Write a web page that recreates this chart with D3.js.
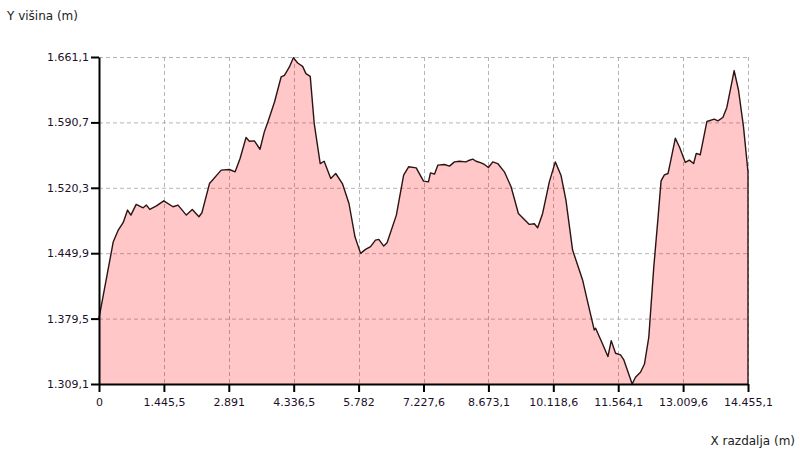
<!DOCTYPE html>
<meta charset="utf-8" />
<style>
    body { margin: 0; background: #fff; }
    text { font-family: "DejaVu Sans", Verdana, sans-serif; }
</style>
<title>Profil</title>
<body></body>
<script src="https://d3js.org/d3.v7.min.js"></script>
<script>

    // distance along the profile (m)
    var distances = [0, 318, 429, 540, 636, 710, 828, 983, 1057, 1131, 1279, 1442, 1649, 1760, 1945,
        2078, 2226, 2292, 2462, 2721, 2906, 3032, 3142, 3275, 3349, 3460, 3586, 3682, 3761, 3909,
        4056, 4130, 4241, 4329, 4425, 4536, 4609, 4705, 4794, 4927, 5015, 5162, 5273, 5421, 5568,
        5701, 5826, 5937, 6048, 6158, 6232, 6342, 6416, 6623, 6785, 6896, 7065, 7228, 7338, 7383,
        7472, 7546, 7694, 7806, 7917, 8028, 8176, 8250, 8325, 8399, 8510, 8584, 8673, 8770, 8881,
        9029, 9178, 9341, 9474, 9585, 9696, 9770, 9881, 10030, 10163, 10289, 10400, 10548, 10660,
        10771, 10882, 11030, 11061, 11209, 11335, 11409, 11505, 11616, 11690, 11779, 11875, 11949,
        12060, 12149, 12245, 12356, 12452, 12519, 12593, 12674, 12726, 12837, 12933, 13059, 13148,
        13244, 13303, 13392, 13540, 13703, 13784, 13895, 13984, 14147, 14244, 14355, 14455.1];

    // elevation (m)
    var elevations = [1380, 1462.3, 1474.8, 1483, 1496.3, 1490.9, 1502.4, 1498.8, 1501.7, 1497, 1500.9,
        1506.3, 1499.9, 1501.7, 1490.9, 1497, 1489.1, 1493.4, 1525, 1539.3, 1540, 1537.5, 1551.8,
        1574.4, 1570.4, 1570.8, 1561.8, 1580.5, 1591.2, 1612.7, 1639.6, 1641.4, 1650.4, 1660.4,
        1654.6, 1651, 1643.2, 1640.3, 1589.4, 1546.4, 1548.9, 1530.3, 1535.7, 1524.9, 1503.4,
        1467.6, 1449.7, 1454, 1456.9, 1464, 1464.8, 1457.6, 1461.2, 1490.9, 1533.9, 1542.9,
        1541.8, 1527.5, 1526.7, 1536.4, 1535, 1544.7, 1545.4, 1543.6, 1548.2, 1548.9, 1548.2,
        1550, 1551.1, 1548.9, 1547.2, 1545.4, 1542.1, 1548.2, 1546.4, 1537.5, 1521.4, 1492.7,
        1486.3, 1480.9, 1481.6, 1477.3, 1492.7, 1526.7, 1548.2, 1533.9, 1507, 1453.3, 1437.2,
        1421.1, 1397.8, 1367.3, 1369.1, 1353, 1338.6, 1355.8, 1342.2, 1340.4, 1335, 1322.5,
        1309.1, 1316.3, 1321.7, 1330.6, 1359.3, 1434.6, 1488.4, 1527.8, 1534.3, 1535.7, 1547.6,
        1573.7, 1563.7, 1547.6, 1550.1, 1546.5, 1557.3, 1555.9, 1591.7, 1594.2, 1592.4, 1596,
        1606.8, 1646.5, 1625.3, 1585.9, 1537.5];

    // axis ticks
    var xTicks = [0, 1445.51, 2891.02, 4336.53, 5782.04, 7227.55, 8673.06, 10118.57, 11564.08, 13009.59, 14455.1];
    var xTickLabels = ["0", "1.445,5", "2.891", "4.336,5", "5.782", "7.227,6", "8.673,1",
        "10.118,6", "11.564,1", "13.009,6", "14.455,1"];
    var yTicks = [1309.1, 1379.5, 1449.9, 1520.3, 1590.7, 1661.1];
    var yTickLabels = ["1.309,1", "1.379,5", "1.449,9", "1.520,3", "1.590,7", "1.661,1"];

    var svgWidth = 800;
    var svgHeight = 452;
    var margin = {top: 57, right: 52, bottom: 68, left: 99};
    var width = svgWidth - margin.left - margin.right;
    var height = svgHeight - margin.top - margin.bottom;

    var data = distances.map(function (d, i) { return [d, elevations[i]]; });

    var svg = d3.select("body")
        .append("svg")
        .attr("width", svgWidth)
        .attr("height", svgHeight);

    var x = d3.scaleLinear().domain([0, 14455.1]).range([0, width]);
    var y = d3.scaleLinear().domain([1309.1, 1661.1]).range([height, 0]);

    var g = svg.append("g")
        .attr("transform", "translate(" + margin.left + "," + margin.top + ")");

    // grid
    g.append("g")
        .selectAll("line")
        .data(yTicks.slice(1))
        .enter().append("line")
        .attr("x1", 0).attr("x2", width)
        .attr("y1", function (d) { return y(d) + 0.5; })
        .attr("y2", function (d) { return y(d) + 0.5; })
        .attr("stroke", "#b4b4b4")
        .attr("stroke-dasharray", "4,3");

    g.append("g")
        .selectAll("line")
        .data(xTicks.slice(1))
        .enter().append("line")
        .attr("y1", 0).attr("y2", height)
        .attr("x1", function (d) { return Math.round(x(d)) + 0.5; })
        .attr("x2", function (d) { return Math.round(x(d)) + 0.5; })
        .attr("stroke", "#b4b4b4")
        .attr("stroke-dasharray", "4,3");

    // profile
    var area = d3.area()
        .x(function (d) { return x(d[0]); })
        .y0(height)
        .y1(function (d) { return y(d[1]); });

    g.append("path")
        .datum(data)
        .attr("d", area)
        .attr("fill", "rgba(255,0,0,0.22)")
        .attr("stroke", "none");

    var line = d3.line()
        .x(function (d) { return x(d[0]); })
        .y(function (d) { return y(d[1]); });

    g.append("path")
        .datum(data.concat([[14455.1, 1309.1]]))
        .attr("d", line)
        .attr("fill", "none")
        .attr("stroke", "#2a1414")
        .attr("stroke-width", 1.4)
        .attr("stroke-linejoin", "round");

    // axes
    var xAxis = d3.axisBottom(x)
        .tickValues(xTicks)
        .tickSize(8)
        .tickSizeOuter(0)
        .tickFormat(function (d, i) { return xTickLabels[i]; });

    var yAxis = d3.axisLeft(y)
        .tickValues(yTicks)
        .tickSize(8)
        .tickSizeOuter(0)
        .tickFormat(function (d, i) { return yTickLabels[i]; });

    var gx = g.append("g")
        .attr("transform", "translate(0," + height + ")")
        .call(xAxis);

    var gy = g.append("g")
        .call(yAxis);

    [gx, gy].forEach(function (a) {
        a.select(".domain").attr("stroke", "#000").attr("stroke-width", 2);
        a.selectAll(".tick line").attr("stroke", "#000").attr("stroke-width", 2);
        a.selectAll(".tick text")
            .attr("fill", "#1c1028")
            .style("font-size", "11px")
            .style("font-family", "'DejaVu Sans', Verdana, sans-serif");
    });
    gx.selectAll(".tick text").attr("dy", "1.05em").attr("y", 10);
    gy.selectAll(".tick text").attr("x", -10);

    // axis titles
    svg.append("text")
        .attr("x", 7)
        .attr("y", 20)
        .attr("fill", "#222")
        .style("font-size", "12px")
        .text("Y višina (m)");

    svg.append("text")
        .attr("x", 795)
        .attr("y", 445)
        .attr("text-anchor", "end")
        .attr("fill", "#222")
        .style("font-size", "12px")
        .text("X razdalja (m)");

</script>
